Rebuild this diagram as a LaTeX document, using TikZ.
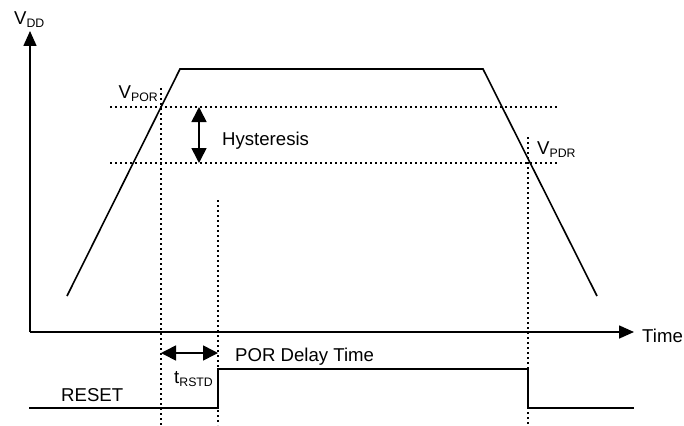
\documentclass[tikz,border=0pt]{standalone}
\usepackage{fontspec}
\setmainfont{Liberation Sans}
\usetikzlibrary{arrows.meta}
\newcommand\sbx[1]{{\fontsize{12.3}{12}\selectfont\raisebox{-3pt}{#1}}}
\begin{document}
\begin{tikzpicture}[x=1pt,y=-1pt,
  lbl/.style={font=\fontsize{18.6}{20}\selectfont, inner sep=0pt},
  sig/.style={line width=1.6pt},
  dotl/.style={line width=1.8pt, dash pattern=on 1.8pt off 3.2pt},
  tip/.style={-{Triangle[length=15pt,width=13pt]}},
  dtip/.style={{Triangle[length=15pt,width=15pt]}-{Triangle[length=15pt,width=15pt]}}]
\useasboundingbox (0,0) rectangle (684,425);
% axes
\coordinate (O) at (30,332);
\coordinate (Ytop) at (30,31);
\coordinate (Xend) at (634,332);
\draw[sig,tip] (O) -- (Ytop);
\draw[sig,tip] (O) -- (Xend);
% VDD curve
\coordinate (c1) at (67,296);
\coordinate (c2) at (180,69);
\coordinate (c3) at (483,69);
\coordinate (c4) at (597,296);
\draw[sig,line join=miter] (c1) -- (c2) -- (c3) -- (c4);
% dotted threshold lines
\coordinate (h1a) at (110,107); \coordinate (h1b) at (558,107);
\coordinate (h2a) at (110,163); \coordinate (h2b) at (558,163);
\draw[dotl] (h1a) -- (h1b);
\draw[dotl] (h2a) -- (h2b);
\coordinate (v1a) at (161,88);  \coordinate (v1b) at (161,425);
\coordinate (v2a) at (218,200); \coordinate (v2b) at (218,425);
\coordinate (v3a) at (528,137); \coordinate (v3b) at (528,425);
\draw[dotl] (v1a) -- (v1b);
\draw[dotl] (v2a) -- (v2b);
\draw[dotl] (v3a) -- (v3b);
% hysteresis arrow
\coordinate (ha) at (199,107); \coordinate (hb) at (199,163);
\draw[line width=1.6pt,dtip] (ha) -- (hb);
% tRSTD arrow
\coordinate (ta) at (161,353); \coordinate (tb) at (218,353);
\draw[line width=1.6pt,dtip] (ta) -- (tb);
% RESET signal
\coordinate (r0) at (29,408); \coordinate (r1) at (218,408);
\coordinate (r2) at (218,369); \coordinate (r3) at (528,369);
\coordinate (r4) at (528,408); \coordinate (r5) at (634,408);
\draw[sig,line join=miter] (r0) -- (r1) -- (r2) -- (r3) -- (r4) -- (r5);
% labels
\node[lbl,anchor=base west] (vdd) at (14,25) {V\sbx{DD}};
\node[lbl,anchor=base east] (vpor) at (158,99) {V\sbx{POR}};
\node[lbl,anchor=base west] (vpdr) at (537,154) {V\sbx{PDR}};
\node[lbl,anchor=base west] (hys) at (222,145) {Hysteresis};
\node[lbl,anchor=base west] (pdt) at (235,361) {POR Delay Time};
\node[lbl,anchor=base west] (trs) at (174,383) {t\sbx{RSTD}};
\node[lbl,anchor=base west] (rst) at (61,401) {RESET};
\node[lbl,anchor=base west] (tim) at (642,342) {Time};
\end{tikzpicture}
\end{document}
